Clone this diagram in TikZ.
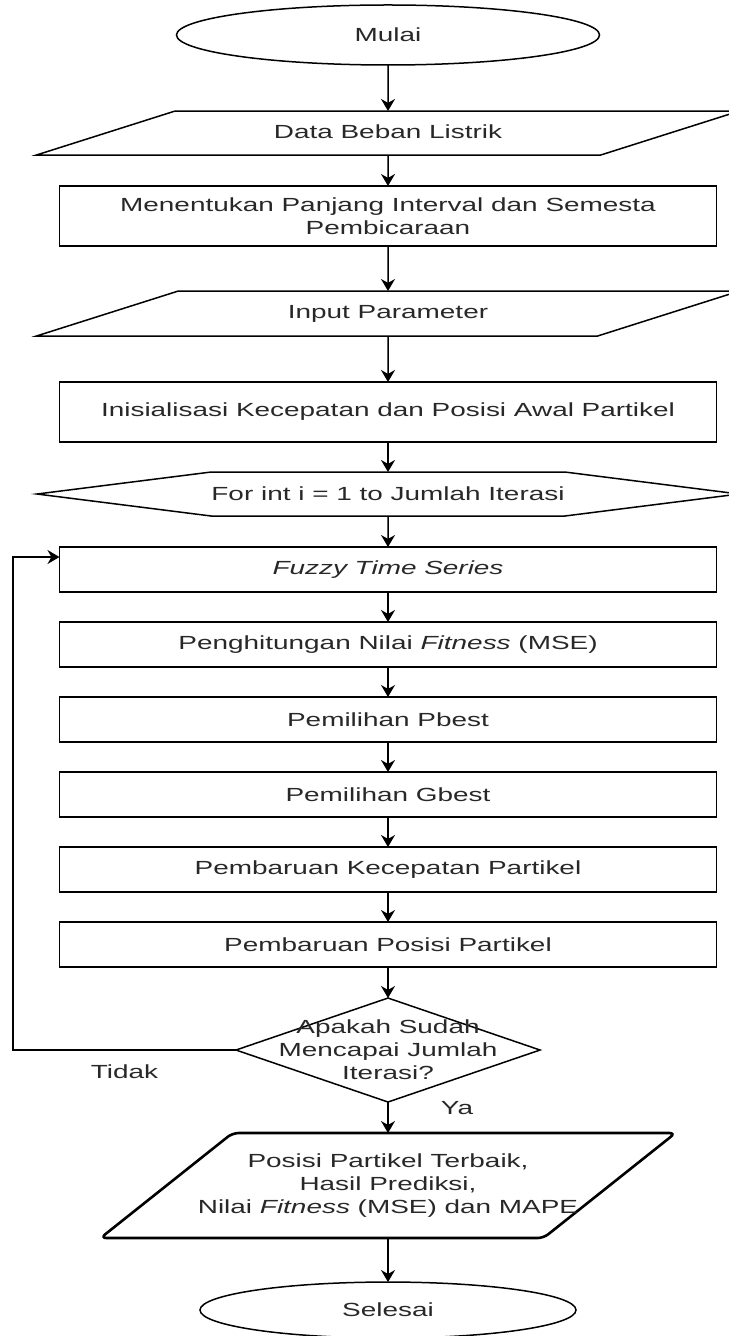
\documentclass[tikz,border=0pt]{standalone}
\usepackage{fontspec}
\setmainfont{Liberation Sans}[FakeStretch=1.47]
\usepackage{tikz}
\usetikzlibrary{arrows.meta,positioning,shapes.geometric,shapes.symbols}
\definecolor{flow_line}{RGB}{0,0,0}
\definecolor{flow_text}{RGB}{40,40,40}

\begin{document}
\begin{tikzpicture}[
      node distance=15pt,
      every node/.style={font=\fontsize{9.5}{11.5}\selectfont, text=flow_text, outer sep=0pt},
      proc/.style={draw=flow_line, line width=0.75pt, minimum width=328.5pt,
                   minimum height=22.5pt, inner sep=0pt, align=center},
      io/.style={draw=flow_line, line width=0.75pt, trapezium,
                 trapezium left angle=17.6, trapezium right angle=162.4,
                 trapezium stretches body, minimum width=351.5pt,
                 text height=7pt, text depth=2pt, inner xsep=0pt, inner ysep=6.5pt},
      loopbox/.style={draw=flow_line, line width=0.75pt, signal,
                 signal to=west and east, signal pointer angle=14.4,
                 minimum width=351pt, minimum height=22pt, inner sep=0pt},
      decide/.style={draw=flow_line, line width=0.75pt, diamond,
                 minimum width=152pt, minimum height=52pt, inner sep=0pt},
      outbox/.style={draw=flow_line, line width=1.3pt, trapezium,
                 trapezium left angle=38.5, trapezium right angle=141.5,
                 trapezium stretches body, rounded corners=3pt,
                 minimum width=287.5pt, text height=0pt, text depth=0pt,
                 inner xsep=0pt, inner ysep=26.25pt},
      term/.style={draw=flow_line, line width=0.75pt, ellipse, inner sep=0pt},
      arr/.style={-{Stealth[length=6pt,width=7pt]}, flow_line, line width=0.75pt},
      lbl/.style={inner sep=0pt},
    ]
    \useasboundingbox (0,0) rectangle (364pt,-668pt);

    \node[term, minimum width=211.5pt, minimum height=30pt] (start) at (194pt,-17.5pt) {Mulai};
    \node[io, below=23pt of start]      (data) {Data Beban Listrik};
    \node[proc, minimum height=30pt, below=15.5pt of data] (univ)
         {Menentukan Panjang Interval dan Semesta\\Pembicaraan};
    \node[io, inner ysep=6.75pt, below=22.5pt of univ] (param) {Input Parameter};
    \node[proc, minimum height=30pt, below=23pt of param] (init)
         {Inisialisasi Kecepatan dan Posisi Awal Partikel};
    \node[loopbox, below=of init]       (iter) {For int i = 1 to Jumlah Iterasi};

    % loop body
    \node[proc, below=15.5pt of iter]   (fts)   {\textit{Fuzzy Time Series}};
    \node[proc, below=of fts]           (fit)   {Penghitungan Nilai \textit{Fitness} (MSE)};
    \node[proc, below=of fit]           (pbest) {Pemilihan Pbest};
    \node[proc, below=of pbest]         (gbest) {Pemilihan Gbest};
    \node[proc, below=of gbest]         (vel)   {Pembaruan Kecepatan Partikel};
    \node[proc, below=of vel]           (pos)   {Pembaruan Posisi Partikel};
    \node[decide, below=15.5pt of pos,
          label={[lbl, align=center]center:{Apakah Sudah\\Mencapai Jumlah\\Iterasi?}}] (cek) {};

    % output
    \node[outbox, below=15.5pt of cek,
          label={[lbl, align=center]center:{Posisi Partikel Terbaik,\\Hasil Prediksi,\\Nilai \textit{Fitness} (MSE) dan MAPE}}] (res) {};
    \node[term, minimum width=188pt, minimum height=28pt, below=22pt of res] (stop) {Selesai};

    \coordinate (back) at ([xshift=-111.5pt]cek.west);

    \draw[arr] (start) -- (data);
    \draw[arr] (data)  -- (univ);
    \draw[arr] (univ)  -- (param);
    \draw[arr] (param) -- (init);
    \draw[arr] (init)  -- (iter);
    \draw[arr] (iter)  -- (fts);
    \draw[arr] (fts)   -- (fit);
    \draw[arr] (fit)   -- (pbest);
    \draw[arr] (pbest) -- (gbest);
    \draw[arr] (gbest) -- (vel);
    \draw[arr] (vel)   -- (pos);
    \draw[arr] (pos)   -- (cek);
    \draw[arr] (cek)   -- node[lbl, pos=0.2, xshift=34.5pt]{Ya} (res);
    \draw[arr] (res)   -- (stop);
    \draw[arr] (cek.west) -- node[lbl, below=7.5pt]{Tidak} (back)
               |- ([yshift=6.25pt]fts.west);
  \end{tikzpicture}
\end{document}
